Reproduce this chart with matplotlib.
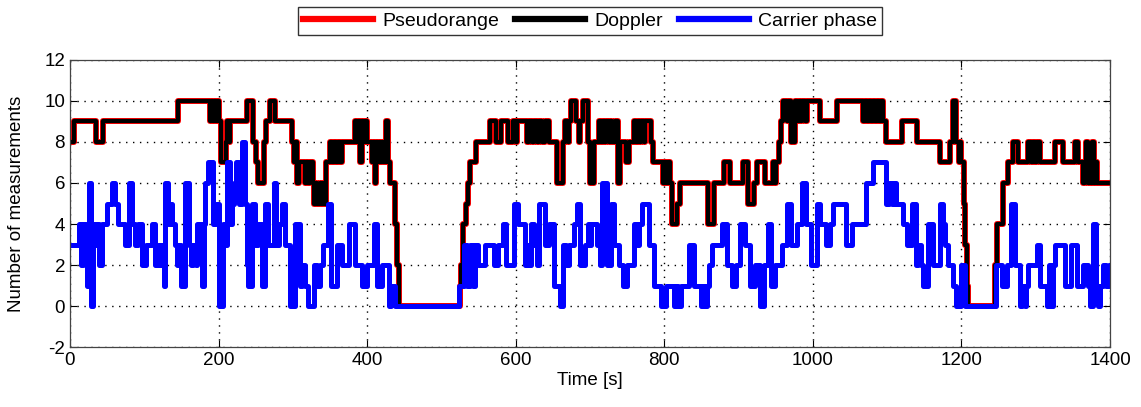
import numpy as np
import matplotlib
matplotlib.use('Agg')
import matplotlib.pyplot as plt

plt.rcParams['font.family'] = ['Liberation Sans Narrow', 'Liberation Sans', 'DejaVu Sans']
plt.rcParams['axes.unicode_minus'] = False

# Pseudorange / Doppler: step change times [s] and counts
pr_t = [0, 5, 35, 45, 146, 188, 190, 192, 194, 196, 198, 200, 203, 210, 212, 214, 216,
        238, 247, 250, 253, 261, 264, 269, 276, 299, 302, 304, 305, 308, 312, 316, 318,
        321, 323, 327, 329, 331, 333, 336, 338, 341, 343, 344, 350, 353, 355, 358, 361,
        364, 366, 371, 384, 386, 388, 391, 393, 395, 397, 400, 402, 406, 408, 410, 412,
        414, 416, 418, 420, 422, 425, 428, 431, 437, 440, 443,
        525, 527, 529, 533, 536, 538, 547, 565, 574, 580, 589, 596, 600, 602, 615, 618,
        622, 625, 628, 632, 636, 640, 645, 655, 664, 667, 670, 672, 675, 681, 685, 687,
        690, 697, 700, 706, 712, 715, 717, 720, 722, 725, 727, 730, 733, 737, 741, 749,
        752, 759, 762, 764, 767, 769, 772, 774, 782, 785, 798, 800, 802, 805, 807, 810,
        817, 821, 859, 867, 881, 888, 906, 913, 921, 925, 935, 946, 949, 951, 954, 957,
        960, 965, 967, 971, 976, 979, 981, 984, 986, 989, 992, 1010, 1032, 1068, 1070,
        1073, 1075, 1078, 1081, 1084, 1086, 1089, 1091, 1095, 1098, 1120, 1140, 1171,
        1184, 1189, 1193, 1196, 1198, 1200, 1203, 1205, 1207, 1209, 1245, 1248, 1256,
        1263, 1270, 1276, 1290, 1293, 1296, 1299, 1302, 1306, 1326, 1337, 1353, 1357,
        1364, 1366, 1368, 1370, 1372, 1374, 1376, 1378, 1380, 1383, 1400]
pr_v = [8, 9, 8, 9, 10, 9, 10, 9, 10, 9, 10, 9, 7, 8, 9, 8, 9,
        10, 8, 7, 6, 8, 9, 10, 9, 8, 7, 8, 6, 7, 7, 6, 7,
        6, 7, 6, 5, 6, 5, 6, 5, 6, 5, 7, 8, 7, 8, 7, 8,
        7, 8, 8, 9, 8, 9, 7, 9, 8, 9, 8, 8, 7, 8, 6, 8,
        7, 8, 7, 8, 7, 9, 7, 6, 4, 2, 0,
        1, 2, 4, 5, 6, 7, 8, 9, 8, 9, 8, 9, 8, 9, 8, 9,
        8, 9, 8, 9, 8, 9, 8, 6, 8, 9, 8, 9, 10, 9, 8, 9,
        10, 8, 6, 8, 9, 8, 9, 8, 9, 8, 9, 8, 9, 6, 8, 7,
        8, 9, 8, 9, 8, 9, 8, 9, 8, 7, 6, 7, 6, 7, 6, 4,
        5, 6, 4, 6, 7, 6, 7, 5, 6, 7, 6, 7, 6, 7, 8, 9,
        10, 9, 10, 8, 10, 9, 10, 9, 10, 9, 10, 9, 10, 9, 10,
        9, 10, 9, 10, 9, 10, 9, 10, 9, 8, 9, 8, 7,
        8, 10, 8, 7, 8, 7, 5, 3, 1, 0, 2, 4, 6,
        7, 8, 7, 8, 7, 8, 7, 8, 7, 8, 7, 8, 7,
        6, 7, 8, 6, 7, 6, 8, 6, 7, 6, 6]
dop_t = list(pr_t)
dop_v = list(pr_v)

# Carrier phase: step change times [s] and counts
cp_t = [0, 12, 15, 17, 21, 23, 26, 28, 31, 34, 37, 39, 43, 50, 56, 61, 65, 74, 79, 83,
        88, 92, 97, 103, 110, 115, 118, 121, 124, 126, 128, 132, 135, 138, 141, 144, 147,
        150, 155, 160, 163, 166, 169, 171, 178, 180, 182, 186, 193, 197, 201, 206, 209,
        212, 215, 218, 221, 224, 228, 231, 236, 238, 240, 245, 249, 253, 258, 263, 267,
        274, 278, 281, 285, 290, 296, 303, 309, 313, 317, 321, 328, 332, 336, 341, 348,
        352, 359, 366, 375, 384, 393, 400, 409, 413, 420, 429, 432, 438,
        524, 531, 535, 538, 542, 545, 549, 558, 571, 576, 583, 587, 598, 603, 612, 615,
        618, 621, 625, 628, 632, 639, 645, 652, 659, 664, 668, 672, 679, 682, 686, 693,
        697, 700, 702, 710, 713, 716, 723, 728, 732, 739, 745, 750, 759, 763, 766, 770,
        779, 786, 795, 802, 813, 816, 819, 822, 833, 840, 849, 852, 855, 857, 860, 864,
        878, 885, 891, 896, 902, 909, 915, 922, 929, 934, 940, 944, 949, 958, 965, 971,
        978, 985, 991, 998, 1005, 1009, 1018, 1023, 1027, 1045, 1052, 1072, 1081, 1099,
        1102, 1106, 1109, 1112, 1121, 1126, 1133, 1139, 1142, 1145, 1148, 1155, 1162,
        1171, 1175, 1178, 1182, 1189, 1192, 1200, 1205, 1247, 1254, 1261, 1267, 1272,
        1279, 1282, 1285, 1287, 1290, 1301, 1306, 1315, 1318, 1321, 1323, 1326, 1339,
        1348, 1355, 1364, 1370, 1373, 1377, 1381, 1384, 1387, 1390, 1395, 1398, 1400]
cp_v = [3, 4, 2, 4, 2, 1, 6, 0, 4, 3, 4, 2, 4, 5, 6, 5, 4, 3, 6, 4,
        3, 4, 2, 3, 4, 2, 3, 2, 3, 1, 6, 4, 5, 4, 3, 2, 3,
        1, 6, 3, 2, 3, 2, 4, 1, 4, 6, 7, 4, 5, 0, 4, 3,
        7, 4, 5, 6, 7, 5, 8, 5, 2, 1, 5, 3, 4, 1, 5, 3,
        6, 3, 4, 5, 3, 0, 4, 1, 2, 1, 0, 2, 1, 2, 3, 5,
        1, 3, 2, 4, 2, 1, 2, 4, 1, 2, 0, 1, 0,
        1, 3, 1, 3, 1, 3, 2, 3, 2, 3, 4, 2, 5, 4, 2, 3,
        2, 4, 3, 2, 5, 3, 4, 1, 0, 3, 2, 3, 4, 5, 2, 3,
        4, 3, 4, 3, 2, 6, 2, 5, 3, 2, 1, 2, 4, 3, 4, 5,
        3, 1, 0, 1, 0, 1, 0, 1, 3, 1, 0, 1, 0, 1, 2, 3,
        4, 2, 1, 2, 4, 3, 1, 2, 0, 2, 4, 1, 2, 3, 5, 3,
        4, 6, 4, 2, 5, 4, 3, 4, 5, 3, 4, 6, 7, 5,
        6, 5, 6, 5, 4, 3, 5, 2, 3, 2, 1, 4, 2,
        5, 4, 3, 2, 1, 0, 2, 0, 2, 1, 2, 5, 2,
        0, 1, 0, 1, 2, 3, 1, 0, 2, 0, 2, 3, 1,
        3, 1, 2, 1, 0, 4, 1, 0, 1, 2, 1, 2, 2]

fig = plt.figure(figsize=(11.41, 4.07), dpi=100)
ax = fig.add_axes([0.0613, 0.1474, 0.9116, 0.7052])

line1, = ax.plot(pr_t, pr_v, drawstyle='steps-post', color='red', lw=4.3, label='Pseudorange')
line2, = ax.plot(dop_t, dop_v, drawstyle='steps-post', color='black', lw=3.0, label='Doppler')
line3, = ax.plot(cp_t, cp_v, drawstyle='steps-post', color='blue', lw=3.6, label='Carrier phase')

ax.set_xlim(0, 1400)
ax.set_ylim(-2, 12)
ax.set_xticks(np.arange(0, 1401, 200))
ax.set_yticks(np.arange(-2, 13, 2))
ax.grid(True, linestyle=(0, (1, 4)), color='black', linewidth=1.0)
ax.tick_params(direction='in', length=5, labelsize=13.5, top=True, right=True)
for s in ax.spines.values():
    s.set_linewidth(0.9)
    s.set_color('#444444')

ax.set_xlabel('Time [s]', fontsize=13.5, labelpad=2)
ax.set_ylabel('Number of measurements', fontsize=13.5, labelpad=14)

leg = fig.legend(handles=[line1, line2, line3], loc='center', ncol=3,
                 bbox_to_anchor=(0.517, 0.948), fontsize=14, frameon=True,
                 fancybox=False, edgecolor='black', handlelength=3.6,
                 borderpad=0.25, columnspacing=0.8, handletextpad=0.5)
leg.get_frame().set_linewidth(1.0)
for h in leg.get_lines():
    h.set_linewidth(4.5)

fig.savefig('out.png', dpi=100)
